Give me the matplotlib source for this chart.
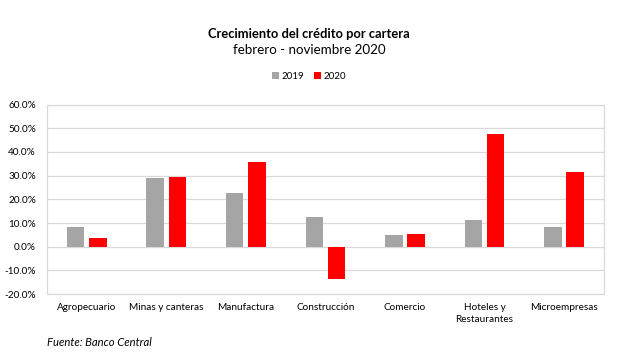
import numpy as np
import matplotlib.pyplot as plt
from matplotlib.ticker import FuncFormatter

plt.rcParams['font.family'] = ['Lato', 'DejaVu Sans']

categories = ["Agropecuario", "Minas y canteras", "Manufactura", "Construcción",
              "Comercio", "Hoteles y\nRestaurantes", "Microempresas"]
vals_2019 = [8.2, 28.9, 22.5, 12.4, 4.8, 11.5, 8.2]
vals_2020 = [3.5, 29.3, 35.8, -13.8, 5.2, 47.6, 31.5]
yticks = [-20, -10, 0, 10, 20, 30, 40, 50, 60]

grey = "#a5a5a5"
red = "#ff0000"
grid = "#d9d9d9"

fig = plt.figure(figsize=(6.27, 3.57), dpi=100)
ax = fig.add_axes([0.075, 0.176, 0.888, 0.531])

x = np.arange(len(categories))
w = 0.22
ax.bar(x - 0.14, vals_2019, w, color=grey, label="2019", zorder=3)
ax.bar(x + 0.14, vals_2020, w, color=red, label="2020", zorder=3)

ax.set_xlim(-0.5, len(categories) - 0.5)
ax.set_ylim(-20, 60)
ax.set_yticks(yticks)
ax.yaxis.set_major_formatter(FuncFormatter(lambda v, p: f"{v:.1f}%"))
ax.set_xticks(x)
ax.set_xticklabels(categories, fontsize=7.2, linespacing=1.5)
ax.tick_params(axis="y", labelsize=7.2, length=0, pad=8)
ax.tick_params(axis="x", length=0, pad=6)
ax.grid(axis="y", color=grid, linewidth=0.9, zorder=0)
for s in ax.spines.values():
    s.set_color(grid)
    s.set_linewidth(0.9)

fig.text(0.493, 0.905, "Crecimiento del crédito por cartera", ha="center",
         va="center", fontsize=9.3, fontweight="bold")
fig.text(0.493, 0.860, "febrero - noviembre 2020", ha="center",
         va="center", fontsize=9.6)
fig.legend(loc="center", bbox_to_anchor=(0.493, 0.785), ncol=2, frameon=False,
           fontsize=7, handlelength=0.7, handleheight=0.7, handletextpad=0.3,
           columnspacing=1.0)
fig.text(0.075, 0.042, "Fuente: Banco Central", fontsize=8.1, style="italic",
         va="center")

fig.savefig("out.png", dpi=100)
